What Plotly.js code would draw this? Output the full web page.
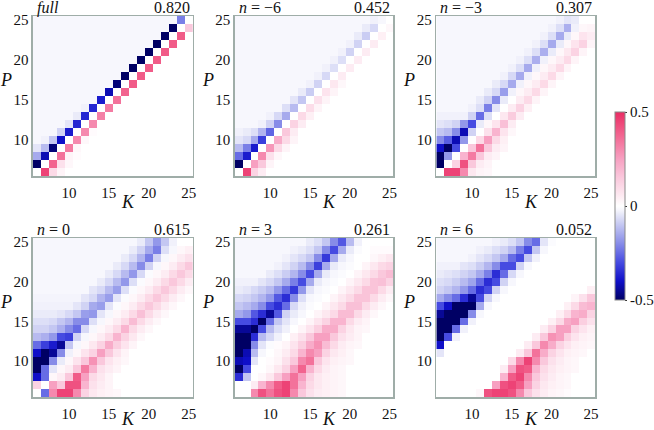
<!DOCTYPE html>
<html><head><meta charset="utf-8">
<script src="https://cdn.plot.ly/plotly-3.0.1.min.js"></script>
<style>html,body{margin:0;padding:0;background:#fff}#chart{width:654px;height:430px}</style>
</head><body><div id="chart"></div>
<script>
// K (x) and P (y) cell centres
const K = [6,7,8,9,10,11,12,13,14,15,16,17,18,19,20,21,22,23,24,25];
const P = [6,7,8,9,10,11,12,13,14,15,16,17,18,19,20,21,22,23,24,25];
const tickVals = [10,15,20,25];
const panelTitles = ['<i>full</i>','<i>n</i> = −6','<i>n</i> = −3','<i>n</i> = 0','<i>n</i> = 3','<i>n</i> = 6'];
const panelValues = ['0.820','0.452','0.307','0.615','0.261','0.052'];
const cbTicks = [-0.5,0,0.5];
const cbTickText = ['-0.5','0','0.5'];

// rows: P = 6..25 ; columns: K = 6..25
const zFull = [
[0,.45,.10,.03,0, 0,0,0,0,0, 0,0,0,0,0, 0,0,0,0,0],
[-.55,0,.38,.08,.02, 0,0,0,0,0, 0,0,0,0,0, 0,0,0,0,0],
[-.15,-.42,0,.35,.03, .01,0,0,0,0, 0,0,0,0,0, 0,0,0,0,0],
[-.05,-.12,-.48,0,.33, .02,0,0,0,0, 0,0,0,0,0, 0,0,0,0,0],
[-.02,-.03,-.10,-.40,0, .30,.02,0,0,0, 0,0,0,0,0, 0,0,0,0,0],
[-.02,-.02,-.02,-.08,-.38, 0,.30,.01,0,0, 0,0,0,0,0, 0,0,0,0,0],
[-.02,-.02,-.02,-.02,-.05, -.36,0,.30,0,0, 0,0,0,0,0, 0,0,0,0,0],
[-.02,-.02,-.02,-.02,-.02, -.04,-.36,0,.32,0, 0,0,0,0,0, 0,0,0,0,0],
[-.02,-.02,-.02,-.02,-.02, -.02,-.03,-.36,0,.33, 0,0,0,0,0, 0,0,0,0,0],
[-.02,-.02,-.02,-.02,-.02, -.02,-.02,-.02,-.38,0, .35,0,0,0,0, 0,0,0,0,0],
[-.02,-.02,-.02,-.02,-.02, -.02,-.02,-.02,-.02,-.42, 0,.38,0,0,0, 0,0,0,0,0],
[-.02,-.02,-.02,-.02,-.02, -.02,-.02,-.02,-.02,-.02, -.48,0,.40,0,0, 0,0,0,0,0],
[-.02,-.02,-.02,-.02,-.02, -.02,-.02,-.02,-.02,-.02, -.02,-.52,0,.40,0, 0,0,0,0,0],
[-.02,-.02,-.02,-.02,-.02, -.02,-.02,-.02,-.02,-.02, -.02,-.02,-.52,0,.40, 0,0,0,0,0],
[-.02,-.02,-.02,-.02,-.02, -.02,-.02,-.02,-.02,-.02, -.02,-.02,-.02,-.52,0, .40,0,0,0,0],
[-.02,-.02,-.02,-.02,-.02, -.02,-.02,-.02,-.02,-.02, -.02,-.02,-.02,-.02,-.52, 0,.40,0,0,0],
[-.02,-.02,-.02,-.02,-.02, -.02,-.02,-.02,-.02,-.02, -.02,-.02,-.02,-.02,-.02, -.52,0,.40,0,0],
[-.02,-.02,-.02,-.02,-.02, -.02,-.02,-.02,-.02,-.02, -.02,-.02,-.02,-.02,-.02, -.02,-.52,0,.40,0],
[-.02,-.02,-.02,-.02,-.02, -.02,-.02,-.02,-.02,-.02, -.02,-.02,-.02,-.02,-.02, -.02,-.02,-.52,0,.15],
[-.02,-.02,-.02,-.02,-.02, -.02,-.02,-.02,-.02,-.02, -.02,-.02,-.02,-.02,-.02, -.02,-.02,-.02,-.22,0]
];

const zNm6 = [
[0,.45,.12,.05,0, 0,0,0,0,0, 0,0,0,0,0, 0,0,0,0,0],
[-.55,0,.25,.15,.03, 0,0,0,0,0, 0,0,0,0,0, 0,0,0,0,0],
[-.25,-.38,0,.30,.08, .02,0,0,0,0, 0,0,0,0,0, 0,0,0,0,0],
[-.12,-.22,-.38,0,.27, .10,.03,0,0,0, 0,0,0,0,0, 0,0,0,0,0],
[-.05,-.07,-.15,-.32,0, .22,.10,.03,0,0, 0,0,0,0,0, 0,0,0,0,0],
[-.03,-.04,-.06,-.13,-.26, 0,.15,.05,0,0, 0,0,0,0,0, 0,0,0,0,0],
[-.02,-.02,-.02,-.03,-.08, -.20,0,.12,.05,0, 0,0,0,0,0, 0,0,0,0,0],
[-.02,-.02,-.02,-.02,-.03, -.07,-.15,0,.10,.04, 0,0,0,0,0, 0,0,0,0,0],
[-.02,-.02,-.02,-.02,-.02, -.02,-.06,-.12,0,.09, .03,0,0,0,0, 0,0,0,0,0],
[-.02,-.02,-.02,-.02,-.02, -.02,-.02,-.05,-.10,0, .08,.03,0,0,0, 0,0,0,0,0],
[-.02,-.02,-.02,-.02,-.02, -.02,-.02,-.02,-.04,-.09, 0,.07,.03,0,0, 0,0,0,0,0],
[-.02,-.02,-.02,-.02,-.02, -.02,-.02,-.02,-.02,-.03, -.08,0,.06,.02,0, 0,0,0,0,0],
[-.02,-.02,-.02,-.02,-.02, -.02,-.02,-.02,-.02,-.02, -.03,-.07,0,.05,0, 0,0,0,0,0],
[-.02,-.02,-.02,-.02,-.02, -.02,-.02,-.02,-.02,-.02, -.02,-.03,-.06,0,.05, 0,0,0,0,0],
[-.02,-.02,-.02,-.02,-.02, -.02,-.02,-.02,-.02,-.02, -.02,-.02,-.03,-.06,0, .05,0,0,0,0],
[-.02,-.02,-.02,-.02,-.02, -.02,-.02,-.02,-.02,-.02, -.02,-.02,-.02,-.03,-.08, 0,.05,0,0,0],
[-.02,-.02,-.02,-.02,-.02, -.02,-.02,-.02,-.02,-.02, -.02,-.02,-.02,-.02,-.03, -.08,0,.05,0,0],
[-.02,-.02,-.02,-.02,-.02, -.02,-.02,-.02,-.02,-.02, -.02,-.02,-.02,-.02,-.02, -.04,-.09,0,.04,0],
[-.02,-.02,-.02,-.02,-.02, -.02,-.02,-.02,-.02,-.02, -.02,-.02,-.02,-.02,-.02, -.02,-.04,-.07,0,.02],
[-.02,-.02,-.02,-.02,-.02, -.02,-.02,-.02,-.02,-.02, -.02,-.02,-.02,-.02,-.02, -.02,-.02,-.03,-.02,0]
];

const zNm3 = [
[0,.45,.45,.30,.06, .03,.02,0,0,0, 0,0,0,0,0, 0,0,0,0,0],
[-.55,0,.12,.42,.15, .05,.03,0,0,0, 0,0,0,0,0, 0,0,0,0,0],
[-.55,-.18,0,.20,.33, .15,.05,.03,0,0, 0,0,0,0,0, 0,0,0,0,0],
[-.40,-.55,-.30,0,.15, .35,.15,.05,.03,0, 0,0,0,0,0, 0,0,0,0,0],
[-.20,-.27,-.42,-.18,0, .10,.25,.10,.04,0, 0,0,0,0,0, 0,0,0,0,0],
[-.10,-.12,-.20,-.42,-.08, 0,.08,.20,.07,.02, 0,0,0,0,0, 0,0,0,0,0],
[-.05,-.06,-.08,-.18,-.30, -.04,.02,.07,.17,.05, 0,0,0,0,0, 0,0,0,0,0],
[-.03,-.03,-.03,-.03,-.08, -.25,-.06,0,.06,.14, .05,0,0,0,0, 0,0,0,0,0],
[-.02,-.02,-.02,-.02,-.03, -.06,-.22,-.05,0,.05, .12,.04,0,0,0, 0,0,0,0,0],
[-.02,-.02,-.02,-.02,-.02, -.04,-.08,-.20,-.04,0, .05,.10,.03,0,0, 0,0,0,0,0],
[-.02,-.02,-.02,-.02,-.02, -.02,-.04,-.07,-.17,-.03, .02,.05,.10,.03,0, 0,0,0,0,0],
[-.02,-.02,-.02,-.02,-.02, -.02,-.02,-.04,-.07,-.15, -.03,.02,.05,.10,.03, 0,0,0,0,0],
[-.02,-.02,-.02,-.02,-.02, -.02,-.02,-.02,-.03,-.07, -.15,-.03,.02,.05,.10, .03,0,0,0,0],
[-.02,-.02,-.02,-.02,-.02, -.02,-.02,-.02,-.02,-.03, -.06,-.15,-.03,.02,.05, .10,.03,0,0,0],
[-.02,-.02,-.02,-.02,-.02, -.02,-.02,-.02,-.02,-.02, -.03,-.06,-.14,-.03,.02, .05,.10,.03,0,0],
[-.02,-.02,-.02,-.02,-.02, -.02,-.02,-.02,-.02,-.02, -.02,-.03,-.06,-.14,-.04, .02,.06,.12,.03,0],
[-.02,-.02,-.02,-.02,-.02, -.02,-.02,-.02,-.02,-.02, -.02,-.02,-.03,-.06,-.15, -.04,.02,.07,.12,.03],
[-.02,-.02,-.02,-.02,-.02, -.02,-.02,-.02,-.02,-.02, -.02,-.02,-.02,-.03,-.06, -.15,-.04,.02,.07,.05],
[-.02,-.02,-.02,-.02,-.02, -.02,-.02,-.02,-.02,-.02, -.02,-.02,-.02,-.02,-.03, -.06,-.14,-.03,.02,.03],
[-.02,-.02,-.02,-.02,-.02, -.02,-.02,-.02,-.02,-.02, -.02,-.02,-.02,-.02,-.02, -.03,-.05,-.04,0,0]
];

const zN0 = [
[0,-.25,.30,.45,.45, .30,.12,.06,.04,.03, .02,0,0,0,0, 0,0,0,0,0],
[.12,0,.25,.15,.42, .42,.20,.08,.05,.03, 0,0,0,0,0, 0,0,0,0,0],
[-.40,-.25,.02,.05,.15, .40,.25,.10,.06,.03, 0,0,0,0,0, 0,0,0,0,0],
[-.55,-.25,-.05,.02,.05, .15,.33,.20,.08,.05, .03,0,0,0,0, 0,0,0,0,0],
[-.55,-.50,-.20,-.04,.02, .07,.15,.28,.15,.07, .04,.02,0,0,0, 0,0,0,0,0],
[-.40,-.50,-.45,-.20,-.03, .02,.07,.12,.25,.15, .07,.03,0,0,0, 0,0,0,0,0],
[-.25,-.32,-.38,-.45,-.10, -.02,.02,.06,.12,.22, .13,.07,.03,0,0, 0,0,0,0,0],
[-.12,-.14,-.18,-.30,-.32, -.08,-.02,.02,.05,.10, .20,.12,.06,.02,0, 0,0,0,0,0],
[-.08,-.08,-.10,-.14,-.20, -.25,-.07,-.02,.02,.05, .10,.20,.10,.05,.02, 0,0,0,0,0],
[-.06,-.06,-.07,-.10,-.13, -.20,-.20,-.06,-.02,.02, .05,.10,.18,.10,.05, .02,0,0,0,0],
[-.04,-.04,-.04,-.05,-.07, -.10,-.17,-.18,-.05,-.02, .02,.05,.10,.17,.10, .05,.02,0,0,0],
[-.03,-.03,-.03,-.03,-.03, -.05,-.08,-.15,-.17,-.05, -.01,.02,.05,.10,.15, .10,.05,.02,0,0],
[-.025,-.025,-.025,-.025,-.025, -.025,-.05,-.07,-.13,-.17, -.05,-.01,.02,.05,.10, .15,.10,.05,.02,0],
[-.02,-.02,-.02,-.02,-.02, -.02,-.02,-.05,-.07,-.12, -.17,-.06,-.01,.02,.05, .10,.15,.10,.05,.02],
[-.02,-.02,-.02,-.02,-.02, -.02,-.02,-.02,-.04,-.07, -.12,-.18,-.06,-.01,.02, .05,.10,.15,.10,.05],
[-.02,-.02,-.02,-.02,-.02, -.02,-.02,-.02,-.02,-.04, -.07,-.12,-.18,-.07,-.01, .02,.05,.10,.15,.10],
[-.02,-.02,-.02,-.02,-.02, -.02,-.02,-.02,-.02,-.02, -.04,-.07,-.12,-.20,-.08, -.02,.02,.05,.10,.15],
[-.02,-.02,-.02,-.02,-.02, -.02,-.02,-.02,-.02,-.02, -.02,-.04,-.07,-.13,-.22, -.08,-.02,.02,.05,.08],
[-.02,-.02,-.02,-.02,-.02, -.02,-.02,-.02,-.02,-.02, -.02,-.02,-.04,-.08,-.15, -.22,-.06,-.02,.02,.04],
[-.02,-.02,-.02,-.02,-.02, -.02,-.02,-.02,-.02,-.02, -.02,-.02,-.02,-.04,-.10, -.18,-.10,-.03,0,0]
];

const zN3 = [
[0,0,.30,.42,.35, .42,.45,.30,.15,.08, .05,.04,.03,.02,0, 0,0,0,0,0],
[0,0,.05,.20,.30, .40,.45,.35,.20,.10, .06,.04,.03,.02,0, 0,0,0,0,0],
[-.35,-.10,0,.02,.06, .15,.25,.35,.25,.12, .06,.04,.03,.02,0, 0,0,0,0,0],
[-.50,-.30,0,0,.02, .06,.12,.25,.38,.20, .10,.05,.03,.02,0, 0,0,0,0,0],
[-.42,-.40,-.05,0,.01, .03,.08,.15,.30,.35, .15,.07,.04,.03,.02, 0,0,0,0,0],
[-.55,-.42,-.12,-.02,0, .02,.05,.10,.20,.30, .25,.12,.06,.04,.02, 0,0,0,0,0],
[-.55,-.50,-.20,-.05,-.01, .01,.03,.07,.13,.22, .28,.18,.10,.05,.03, .02,0,0,0,0],
[-.55,-.50,-.35,-.12,-.07, -.03,0,.04,.08,.15, .25,.25,.15,.08,.05, .03,0,0,0,0],
[-.45,-.45,-.50,-.30,-.12, -.06,-.03,0,.03,.07, .13,.22,.22,.12,.06, .03,.02,0,0,0],
[-.30,-.30,-.35,-.50,-.25, -.10,-.05,-.02,0,.03, .07,.12,.20,.20,.10, .05,.03,0,0,0],
[-.15,-.18,-.28,-.35,-.45, -.28,-.08,-.04,-.02,0, .03,.06,.10,.18,.18, .10,.05,.02,0,0],
[-.10,-.12,-.15,-.20,-.30, -.35,-.25,-.07,-.03,-.01, 0,.03,.06,.10,.17, .17,.10,.05,.02,0],
[-.07,-.08,-.10,-.13,-.18, -.28,-.35,-.20,-.06,-.02, -.01,0,.03,.06,.10, .16,.16,.10,.05,.02],
[-.04,-.05,-.07,-.09,-.12, -.18,-.25,-.33,-.18,-.05, -.02,-.01,0,.03,.06, .10,.16,.16,.10,.05],
[-.03,-.03,-.03,-.05,-.07, -.10,-.15,-.22,-.30,-.15, -.04,-.02,-.01,0,.03, .06,.10,.16,.17,.12],
[-.02,-.02,-.02,-.02,-.04, -.06,-.09,-.13,-.20,-.30, -.15,-.04,-.02,-.01,0, .03,.06,.10,.15,.18],
[-.02,-.02,-.02,-.02,-.02, -.03,-.05,-.08,-.12,-.20, -.32,-.15,-.04,-.02,-.01, 0,.03,.06,.10,.12],
[-.02,-.02,-.02,-.02,-.02, -.02,-.03,-.05,-.07,-.10, -.20,-.33,-.15,-.04,-.02, 0,0,.02,.04,.06],
[-.02,-.02,-.02,-.02,-.02, -.02,-.02,-.03,-.04,-.06, -.10,-.20,-.30,-.15,-.04, -.01,0,.01,.01,.01],
[-.02,-.02,-.02,-.02,-.02, -.02,-.02,-.02,-.02,-.04, -.06,-.10,-.20,-.28,-.12, -.03,0,0,0,0]
];

const zN6 = [
[0,0,0,0,0, .02,.42,.45,.45,.42, .30,.15,.08,.05,.03, .02,.01,0,0,0],
[0,0,0,0,0, 0,0,.25,.42,.45, .40,.25,.12,.06,.04, .03,.02,0,0,0],
[0,0,0,0,0, 0,0,0,.20,.40, .45,.30,.15,.08,.05, .03,.02,0,0,0],
[0,0,0,0,0, 0,0,0,.05,.25, .42,.40,.20,.10,.06, .04,.03,.02,0,0],
[0,0,0,0,0, 0,0,0,0,.10, .30,.45,.30,.15,.08, .05,.03,.02,0,0],
[-.05,0,0,0,0, 0,0,0,0,0, .05,.15,.35,.22,.12, .07,.04,.03,.02,0],
[-.40,0,0,0,0, 0,0,0,0,0, 0,.05,.15,.30,.22, .12,.07,.04,.03,.02],
[-.55,-.30,-.03,0,0, 0,0,0,0,0, 0,0,.05,.15,.28, .25,.13,.07,.04,.03],
[-.55,-.55,-.25,-.03,0, 0,0,0,0,0, 0,0,0,.05,.12, .25,.25,.12,.07,.04],
[-.55,-.55,-.50,-.25,-.03, 0,0,0,0,0, 0,0,0,0,.04, .10,.22,.25,.13,.08],
[-.45,-.50,-.55,-.50,-.20, -.02,0,0,0,0, 0,0,0,0,0, .04,.10,.20,.22,.12],
[-.30,-.40,-.50,-.55,-.50, -.15,-.02,0,0,0, 0,0,0,0,0, 0,.04,.10,.18,.20],
[-.15,-.20,-.25,-.35,-.45, -.30,-.08,-.02,0,0, 0,0,0,0,0, 0,0,.03,.08,.15],
[-.08,-.10,-.13,-.18,-.25, -.35,-.30,-.08,-.02,0, 0,0,0,0,0, 0,0,0,0,.04],
[-.06,-.07,-.09,-.12,-.16, -.25,-.35,-.30,-.08,-.02, 0,0,0,0,0, 0,0,0,0,0],
[-.04,-.05,-.06,-.08,-.10, -.15,-.22,-.35,-.25,-.07, -.02,0,0,0,0, 0,0,0,0,0],
[-.03,-.03,-.03,-.05,-.06, -.09,-.13,-.20,-.30,-.30, -.08,-.02,0,0,0, 0,0,0,0,0],
[-.02,-.02,-.02,-.02,-.03, -.05,-.07,-.10,-.15,-.25, -.30,-.10,-.03,0,0, 0,0,0,0,0],
[-.02,-.02,-.02,-.02,-.02, -.03,-.04,-.06,-.08,-.12, -.22,-.30,-.10,-.02,0, 0,0,0,0,0],
[-.02,-.02,-.02,-.02,-.02, -.02,-.02,-.03,-.04,-.06, -.10,-.20,-.25,-.05,-.01, 0,0,0,0,0]
];

const panels = [zFull, zNm6, zNm3, zN0, zN3, zN6];

// ---------- geometry / style ----------
const W = 654, H = 430;
const fx = v => v / W, fy = v => 1 - v / H;
const boxes = [[33,193,16,176],[235,394,16,176],[437,596,16,176],
               [33,193,238,397],[235,394,238,397],[437,596,238,397]];
const serif = 'Liberation Serif';
const frameColor = '#9fada8';

const data = panels.map((z, i) => ({
  type: 'heatmap', x: K, y: P, z: z,
  coloraxis: 'coloraxis',
  xaxis: i ? 'x' + (i + 1) : 'x',
  yaxis: i ? 'y' + (i + 1) : 'y',
  hoverinfo: 'skip'
}));

const layout = {
  width: W, height: H,
  margin: {l: 0, r: 0, t: 0, b: 0},
  paper_bgcolor: '#fff', plot_bgcolor: '#fff',
  showlegend: false,
  font: {family: serif, size: 15, color: '#111'},
  coloraxis: {
    cmin: -0.5, cmax: 0.5,
    colorscale: [
      [0.00, 'rgb(0,0,100)'],
      [0.10, 'rgb(15,15,200)'],
      [0.20, 'rgb(70,75,225)'],
      [0.30, 'rgb(135,140,232)'],
      [0.40, 'rgb(196,199,242)'],
      [0.46, 'rgb(234,235,249)'],
      [0.48, 'rgb(247,247,253)'],
      [0.50, 'rgb(255,255,255)'],
      [0.56, 'rgb(253,232,240)'],
      [0.65, 'rgb(250,200,220)'],
      [0.75, 'rgb(247,160,193)'],
      [0.88, 'rgb(242,100,143)'],
      [1.00, 'rgb(234,44,100)']
    ],
    colorbar: {
      x: fx(615), xanchor: 'left', xpad: 0,
      y: fy(206), yanchor: 'middle', ypad: 0,
      len: 188 / H, lenmode: 'fraction',
      thickness: 10, thicknessmode: 'pixels',
      outlinecolor: '#8a8a8a', outlinewidth: 1,
      tickvals: cbTicks, ticktext: cbTickText,
      ticks: 'outside', ticklen: 2, tickcolor: '#333',
      tickfont: {family: serif, size: 15, color: '#111'}
    }
  },
  annotations: []
};

boxes.forEach((b, i) => {
  const s = i ? String(i + 1) : '';
  const ax = {
    range: [5.5, 25.5], tickvals: tickVals, ticks: '',
    showline: true, mirror: true, linecolor: frameColor, linewidth: 1.5,
    showgrid: false, zeroline: false, fixedrange: true,
    tickfont: {family: serif, size: 15, color: '#111'}
  };
  layout['xaxis' + s] = Object.assign({}, ax, {domain: [fx(b[0]), fx(b[1])], anchor: 'y' + s, ticklabelstandoff: 2});
  layout['yaxis' + s] = Object.assign({}, ax, {domain: [fy(b[3]), fy(b[2])], anchor: 'x' + s});
  const ty = b[2] - 8;
  layout.annotations.push(
    {text: panelTitles[i], xref: 'paper', yref: 'paper', x: fx(b[0] + 2), y: fy(ty),
     xanchor: 'left', yanchor: 'middle', showarrow: false, font: {family: serif, size: 16, color: '#111'}},
    {text: panelValues[i], xref: 'paper', yref: 'paper', x: fx(b[1] - 1), y: fy(ty),
     xanchor: 'right', yanchor: 'middle', showarrow: false, font: {family: serif, size: 16, color: '#111'}},
    {text: '<i>P</i>', xref: 'paper', yref: 'paper', x: fx(b[0] - 27), y: fy(b[2] + 64),
     xanchor: 'center', yanchor: 'middle', showarrow: false, font: {family: serif, size: 18, color: '#111'}},
    {text: '<i>K</i>', xref: 'paper', yref: 'paper', x: fx(b[0] + 95), y: fy(Math.min(b[3] + 37, H)),
     xanchor: 'center', yanchor: 'bottom', borderpad: 0, showarrow: false, font: {family: serif, size: 18, color: '#111'}}
  );
});

Plotly.newPlot('chart', data, layout, {displayModeBar: false, staticPlot: true});
</script>
</body></html>
